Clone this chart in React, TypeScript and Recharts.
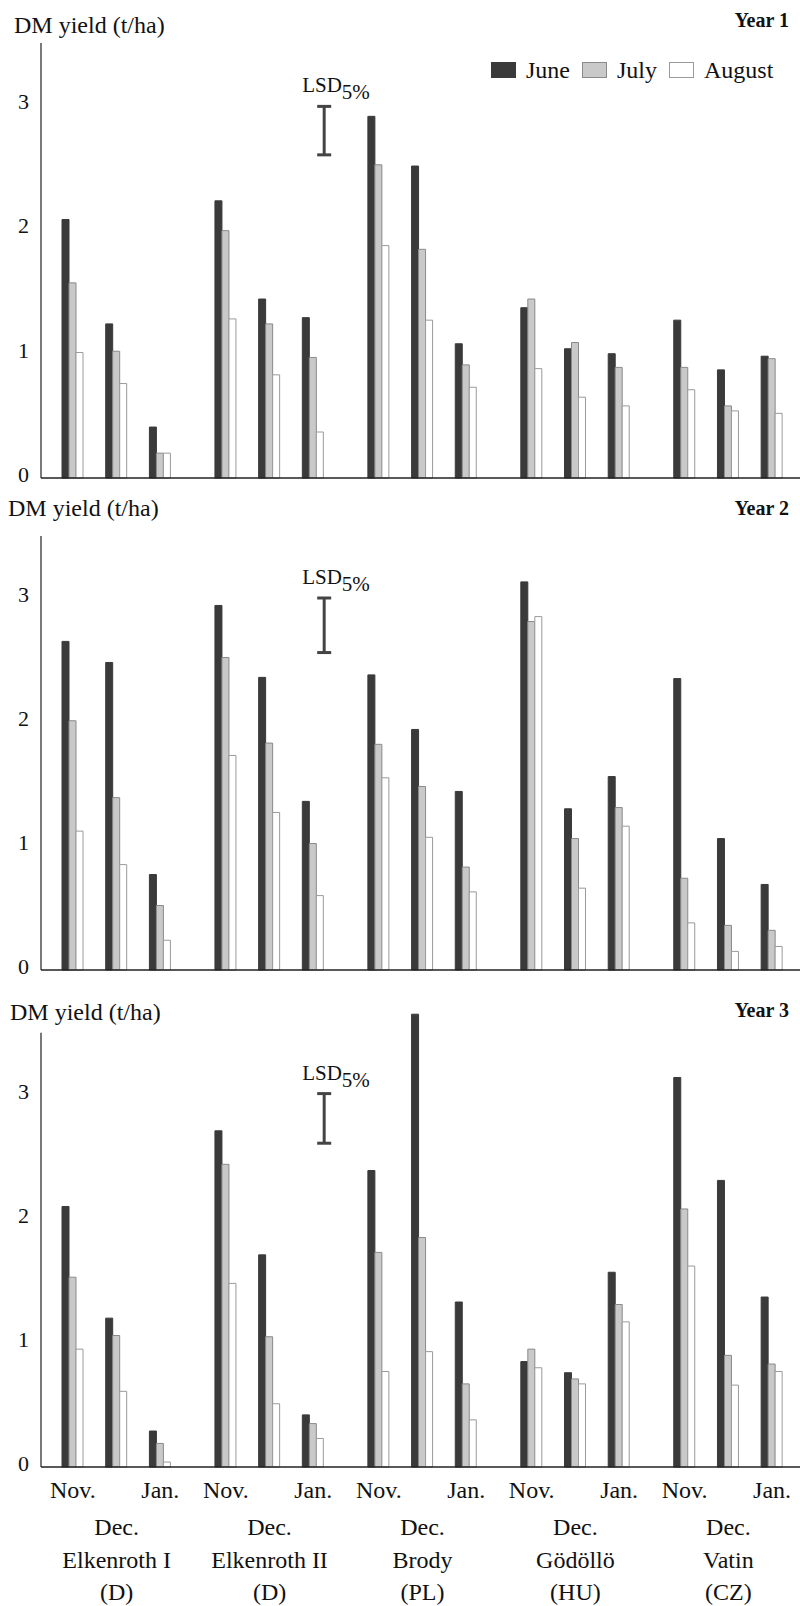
import React from 'react';
import { BarChart, Bar, XAxis, YAxis, ReferenceLine, Legend } from 'recharts';

const FONT = "'Liberation Serif', 'Times New Roman', serif";

const sites = ['Elkenroth I', 'Elkenroth II', 'Brody', 'Gödöllö', 'Vatin'];
const countries = ['(D)', '(D)', '(PL)', '(HU)', '(CZ)'];
const months = ['Nov.', 'Dec.', 'Jan.'];
const yTicks = [0, 1, 2, 3];

// values in site order, Nov/Dec/Jan for each site
const year1June = [2.08, 1.24, 0.41, 2.23, 1.44, 1.29, 2.91, 2.51, 1.08, 1.37, 1.04, 1.0, 1.27, 0.87, 0.98];
const year1July = [1.57, 1.02, 0.2, 1.99, 1.24, 0.97, 2.52, 1.84, 0.91, 1.44, 1.09, 0.89, 0.89, 0.58, 0.96];
const year1August = [1.01, 0.76, 0.2, 1.28, 0.83, 0.37, 1.87, 1.27, 0.73, 0.88, 0.65, 0.58, 0.71, 0.54, 0.52];

const year2June = [2.65, 2.48, 0.77, 2.94, 2.36, 1.36, 2.38, 1.94, 1.44, 3.13, 1.3, 1.56, 2.35, 1.06, 0.69];
const year2July = [2.01, 1.39, 0.52, 2.52, 1.83, 1.02, 1.82, 1.48, 0.83, 2.81, 1.06, 1.31, 0.74, 0.36, 0.32];
const year2August = [1.12, 0.85, 0.24, 1.73, 1.27, 0.6, 1.55, 1.07, 0.63, 2.85, 0.66, 1.16, 0.38, 0.15, 0.19];

const year3June = [2.1, 1.2, 0.29, 2.71, 1.71, 0.42, 2.39, 3.65, 1.33, 0.85, 0.76, 1.57, 3.14, 2.31, 1.37];
const year3July = [1.53, 1.06, 0.19, 2.44, 1.05, 0.35, 1.73, 1.85, 0.67, 0.95, 0.71, 1.31, 2.08, 0.9, 0.83];
const year3August = [0.95, 0.61, 0.04, 1.48, 0.51, 0.23, 0.77, 0.93, 0.38, 0.8, 0.67, 1.17, 1.62, 0.66, 0.77];

// LSD 5% bar per year (low / high end)
const lsdLow = [2.6, 2.56, 2.61];
const lsdHigh = [2.99, 3.0, 3.01];

const SERIES = [
  { key: 'june', name: 'June', fill: '#3a3a3a', stroke: '#3a3a3a' },
  { key: 'july', name: 'July', fill: '#c9c9c9', stroke: '#8a8a8a' },
  { key: 'august', name: 'August', fill: '#ffffff', stroke: '#9a9a9a' },
];

// one slot per month group, empty slots between months and a double slot between sites
const buildRows = (june: number[], july: number[], august: number[]) => {
  const rows: any[] = [];
  sites.forEach((site, s) => {
    if (s > 0) rows.push({ key: `gap-${s}-a` }, { key: `gap-${s}-b` });
    months.forEach((m, k) => {
      if (k > 0) rows.push({ key: `gap-${s}-${k}` });
      const i = s * 3 + k;
      rows.push({ key: `${site}|${m}`, june: june[i], july: july[i], august: august[i] });
    });
  });
  return rows;
};

const LSD_KEY = 'gap-2-a';

const LsdMarker = (props: any) => {
  const { x1, y1, y2 } = props;
  const top = Math.min(y1, y2);
  const bottom = Math.max(y1, y2);
  return (
    <g>
      <line x1={x1} x2={x1} y1={top} y2={bottom} stroke="#444" strokeWidth={3} />
      <line x1={x1 - 7} x2={x1 + 7} y1={top} y2={top} stroke="#444" strokeWidth={3} />
      <line x1={x1 - 7} x2={x1 + 7} y1={bottom} y2={bottom} stroke="#444" strokeWidth={3} />
      <text x={x1 - 22} y={top - 14} fontFamily={FONT} fontSize={21} fill="#111">
        LSD
        <tspan dy={7}>5%</tspan>
      </text>
    </g>
  );
};

const MonthTick = ({ x, y, payload }: any) => {
  const value = String(payload?.value ?? '');
  if (!value.includes('|')) return <g />;
  const [site, month] = value.split('|');
  const s = sites.indexOf(site);
  const common = { x, textAnchor: 'middle' as const, fontFamily: FONT, fontSize: 24, fill: '#111' };
  if (month === 'Dec.') {
    return (
      <g>
        <text {...common} y={y + 68}>Dec.</text>
        <text {...common} y={y + 101}>{site}</text>
        <text {...common} y={y + 133}>{countries[s]}</text>
      </g>
    );
  }
  return (
    <text {...common} y={y + 31}>
      {month}
    </text>
  );
};

const renderLegend = () => (
  <div style={{ display: 'flex', alignItems: 'center', fontFamily: FONT, fontSize: 24, color: '#111', lineHeight: '24px' }}>
    {SERIES.map((s) => (
      <span key={s.key} style={{ display: 'flex', alignItems: 'center', marginRight: 12 }}>
        <span
          style={{
            display: 'inline-block',
            width: 23,
            height: 14,
            background: s.fill,
            border: `1.5px solid ${s.stroke}`,
            marginRight: 10,
          }}
        />
        {s.name}
      </span>
    ))}
  </div>
);

interface PanelProps {
  idx: number;
  top: number;
  height: number;
  marginTop: number;
  domainMax: number;
  june: number[];
  july: number[];
  august: number[];
  showTicks?: boolean;
  showLegend?: boolean;
}

const Panel: React.FC<PanelProps> = ({ idx, top, height, marginTop, domainMax, june, july, august, showTicks, showLegend }) => {
  const rows = buildRows(june, july, august);
  const xHeight = showTicks ? 139 : 16;
  const plotH = height - marginTop - xHeight;
  // axis line drawn only up to 3.5
  const hidden = (plotH * (domainMax - 3.5)) / domainMax;
  const yLine: any = { stroke: '#222', strokeWidth: 1.2 };
  if (hidden > 0.5) yLine.strokeDasharray = `0 ${hidden} ${plotH}`;

  return (
    <div style={{ position: 'absolute', left: 0, top }}>
      <BarChart
        width={800}
        height={height}
        data={rows}
        margin={{ top: marginTop, right: 0, bottom: 0, left: 0 }}
        barCategoryGap={0}
        barGap={0}
      >
        <XAxis
          dataKey="key"
          interval={0}
          padding={{ left: 21, right: 17 }}
          height={xHeight}
          tickLine={false}
          tickSize={0}
          tickMargin={0}
          axisLine={{ stroke: '#222', strokeWidth: 1.6 }}
          tick={showTicks ? <MonthTick /> : false}
        />
        <YAxis
          type="number"
          domain={[0, domainMax]}
          ticks={yTicks}
          interval={0}
          width={41}
          tickLine={false}
          tickSize={0}
          tickMargin={12}
          axisLine={yLine}
          tick={{ fontSize: 22, fill: '#111', fontFamily: FONT, dy: -4 }}
        />
        {showLegend && (
          <Legend
            verticalAlign="middle"
            align="center"
            layout="horizontal"
            wrapperStyle={{ top: 58, left: 491, width: 309, height: 24 }}
            content={renderLegend}
          />
        )}
        {SERIES.map((s) => (
          <Bar
            key={s.key}
            dataKey={s.key}
            name={s.name}
            fill={s.fill}
            stroke={s.stroke}
            strokeWidth={1}
            isAnimationActive={false}
          />
        ))}
        <ReferenceLine
          segment={[
            { x: LSD_KEY, y: lsdLow[idx] },
            { x: LSD_KEY, y: lsdHigh[idx] },
          ]}
          position="start"
          ifOverflow="visible"
          shape={LsdMarker}
        />
      </BarChart>
    </div>
  );
};

const titleStyle: React.CSSProperties = {
  position: 'absolute',
  fontFamily: FONT,
  fontSize: 24,
  lineHeight: '24px',
  color: '#111',
  whiteSpace: 'nowrap',
};

const yearStyle: React.CSSProperties = {
  position: 'absolute',
  left: 0,
  width: 789,
  textAlign: 'right',
  fontFamily: FONT,
  fontSize: 20,
  fontWeight: 'bold',
  lineHeight: '20px',
  color: '#111',
};

export default function App() {
  return (
    <div style={{ position: 'absolute', left: 0, top: 0, width: 800, height: 1606, background: '#fff', overflow: 'hidden' }}>
      <Panel idx={0} top={0} height={494} marginTop={43} domainMax={3.5} june={year1June} july={year1July} august={year1August} showLegend />
      <Panel idx={1} top={500} height={486} marginTop={36} domainMax={3.5} june={year2June} july={year2July} august={year2August} />
      <Panel idx={2} top={990} height={616} marginTop={18} domainMax={3.7} june={year3June} july={year3July} august={year3August} showTicks />

      <div style={{ ...titleStyle, left: 14, top: 13 }}>DM yield (t/ha)</div>
      <div style={{ ...yearStyle, top: 10 }}>Year 1</div>
      <div style={{ ...titleStyle, left: 8, top: 496 }}>DM yield (t/ha)</div>
      <div style={{ ...yearStyle, top: 498 }}>Year 2</div>
      <div style={{ ...titleStyle, left: 10, top: 1000 }}>DM yield (t/ha)</div>
      <div style={{ ...yearStyle, top: 1000 }}>Year 3</div>
    </div>
  );
}
